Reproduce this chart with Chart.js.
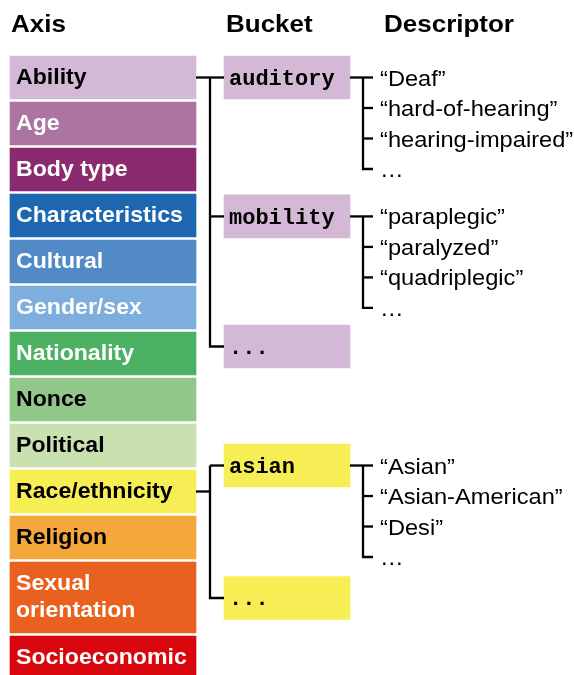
<!DOCTYPE html>
<html><head><meta charset="utf-8">
<script src="https://cdn.jsdelivr.net/npm/chart.js@4"></script>
<style>html,body{margin:0;padding:0;background:#fff;overflow:hidden}canvas{display:block}</style>
</head><body>
<canvas id="c" width="574" height="675"></canvas>
<script>
// ---------- data ----------
const columnTitles = ['Axis', 'Bucket', 'Descriptor'];
const axisLabels = ['Ability', 'Age', 'Body type', 'Characteristics', 'Cultural', 'Gender/sex',
  'Nationality', 'Nonce', 'Political', 'Race/ethnicity', 'Religion', 'Sexual\norientation', 'Socioeconomic'];
const bucketLabels = ['auditory', 'mobility', '...', 'asian', '...'];
const bucketParents = ['Ability', 'Ability', 'Ability', 'Race/ethnicity', 'Race/ethnicity'];
const descriptorLists = [
  ['\u201CDeaf\u201D', '\u201Chard-of-hearing\u201D', '\u201Chearing-impaired\u201D', '\u2026'],
  ['\u201Cparaplegic\u201D', '\u201Cparalyzed\u201D', '\u201Cquadriplegic\u201D', '\u2026'],
  [],
  ['\u201CAsian\u201D', '\u201CAsian-American\u201D', '\u201CDesi\u201D', '\u2026'],
  []
];

// ---------- styles ----------
const axisColors = ['#d4b9d7', '#ad73a1', '#8b2b6f', '#1d66b0', '#528ac8', '#7daedd',
  '#4cb163', '#92c78a', '#c9e1ae', '#f7ee55', '#f4a73b', '#e8611e', '#da060d'];
const axisTextColors = ['#000', '#fff', '#fff', '#fff', '#fff', '#fff',
  '#fff', '#000', '#000', '#000', '#000', '#fff', '#fff'];
const SANS = '"Liberation Sans", Arial, Helvetica, sans-serif';
const MONO = '"Liberation Mono", "Courier New", monospace';

// ---------- layout ----------
const W = 574, H = 675, ROW = 46, TOP = 56, GAP = 3, BOX = 43, LINE2 = 28;
const AXIS_X = [10, 196], BUCKET_X = [224, 350], DESC_X = 380;
const TREE1_X = 210, TREE2_X = 363, TICK_END = 373;
const bucketOffsets = [0, 3.02, 5.848, 8.435, 11.315]; // rows below the first axis row centre
const DESC_STEP = 30.5 / ROW;

let acc = 0;
const axisStart = [], axisSpan = [];
axisLabels.forEach(l => {
  const n = l.split('\n').length;
  const h = (BOX + (n - 1) * LINE2) / ROW;
  axisStart.push(acc); axisSpan.push(h); acc += h + GAP / ROW;
});
const axisCenter = axisStart.map((v, i) => v + axisSpan[i] / 2);
const bucketCenter = bucketOffsets.map(o => axisCenter[0] + o);
const bucketColors = bucketParents.map(p => axisColors[axisLabels.indexOf(p)]);

// ---------- datasets ----------
const datasets = [];
const spanGroups = {};
axisLabels.forEach((l, i) => {
  const key = Math.round(axisSpan[i] * ROW);
  (spanGroups[key] = spanGroups[key] || []).push(i);
});
Object.keys(spanGroups).forEach(k => {
  const idx = spanGroups[k];
  datasets.push({
    type: 'bar', indexAxis: 'y', grouped: false, barThickness: +k,
    data: idx.map(i => ({ x: [AXIS_X[0], AXIS_X[1]], y: axisCenter[i] })),
    backgroundColor: idx.map(i => axisColors[i]), borderWidth: 0, order: 2
  });
});
datasets.push({
  type: 'bar', indexAxis: 'y', grouped: false, barThickness: BOX,
  data: bucketLabels.map((b, i) => ({ x: [BUCKET_X[0], BUCKET_X[1]], y: bucketCenter[i] })),
  backgroundColor: bucketColors, borderWidth: 0, order: 2
});
function seg(points) {
  datasets.push({
    type: 'line', data: points, borderColor: '#000', borderWidth: 2.3, pointRadius: 0,
    fill: false, tension: 0, borderJoinStyle: 'miter', borderCapStyle: 'butt', clip: false, order: 1
  });
}
// axis -> bucket trees
axisLabels.forEach((a, ai) => {
  const kids = bucketParents.map((p, i) => p === a ? i : -1).filter(i => i >= 0);
  if (!kids.length) return;
  const pc = axisCenter[ai];
  const ys = kids.map(i => bucketCenter[i]);
  const top = Math.min(pc, ...ys), bot = Math.max(pc, ...ys);
  seg([{ x: AXIS_X[1], y: pc }, { x: TREE1_X, y: pc }]);
  seg([{ x: TREE1_X, y: top }, { x: TREE1_X, y: bot }, { x: BUCKET_X[0], y: bot }]);
  ys.filter(y => y !== bot).forEach(y => seg([{ x: TREE1_X, y }, { x: BUCKET_X[0], y }]));
});
// bucket -> descriptor trees
descriptorLists.forEach((list, bi) => {
  if (!list.length) return;
  const bc = bucketCenter[bi];
  const last = bc + (list.length - 1) * DESC_STEP;
  seg([{ x: BUCKET_X[1], y: bc }, { x: TICK_END, y: bc }]);
  seg([{ x: TREE2_X, y: bc }, { x: TREE2_X, y: last }, { x: TICK_END, y: last }]);
  list.forEach((d, k) => {
    if (k === 0 || k === list.length - 1) return;
    const y = bc + k * DESC_STEP;
    seg([{ x: TREE2_X, y }, { x: TICK_END, y }]);
  });
});

// ---------- text plugin ----------
function txt(ctx, s, x, y, font, color, sx) {
  ctx.save();
  ctx.font = font; ctx.fillStyle = color; ctx.textBaseline = 'alphabetic'; ctx.textAlign = 'left';
  ctx.translate(x, y); ctx.scale(sx, 1); ctx.fillText(s, 0, 0);
  ctx.restore();
}
const textPlugin = {
  id: 'labels',
  afterDatasetsDraw(chart) {
    const ctx = chart.ctx, xs = chart.scales.x, ys = chart.scales.y;
    const px = v => xs.getPixelForValue(v), py = v => ys.getPixelForValue(v);
    // column titles
    const titleX = [11, 226, 384];
    columnTitles.forEach((t, i) => txt(ctx, t, px(titleX[i]), py(-24 / ROW), 'bold 23px ' + SANS, '#000', 1.13));
    // axis labels
    axisLabels.forEach((l, i) => {
      const lines = l.split('\n');
      const c = py(axisCenter[i]);
      lines.forEach((ln, k) => {
        const y = c + 6 + (k - (lines.length - 1) / 2) * 27;
        txt(ctx, ln, px(AXIS_X[0] + 6), y, 'bold 22px ' + SANS, axisTextColors[i], 1.05);
      });
    });
    // bucket labels
    bucketLabels.forEach((b, i) => {
      txt(ctx, b, px(BUCKET_X[0] + 5), py(bucketCenter[i]) + 7.5, 'bold 22px ' + MONO, '#000', 1);
    });
    // descriptors
    descriptorLists.forEach((list, bi) => {
      list.forEach((d, k) => {
        txt(ctx, d, px(DESC_X), py(bucketCenter[bi] + k * DESC_STEP) + 8, '21.5px ' + SANS, '#000', 1.1);
      });
    });
  }
};

new Chart(document.getElementById('c'), {
  type: 'bar',
  data: { datasets },
  options: {
    responsive: false, animation: false, events: [],
    layout: { padding: 0, autoPadding: false },
    plugins: { legend: { display: false }, tooltip: { enabled: false }, title: { display: false } },
    scales: {
      x: { type: 'linear', min: 0, max: W, display: false, offset: false, grid: { offset: false } },
      y: { type: 'linear', reverse: true, min: -TOP / ROW, max: (H - TOP) / ROW, display: false, offset: false, grid: { offset: false } }
    }
  },
  plugins: [textPlugin]
});
</script>
</body></html>
